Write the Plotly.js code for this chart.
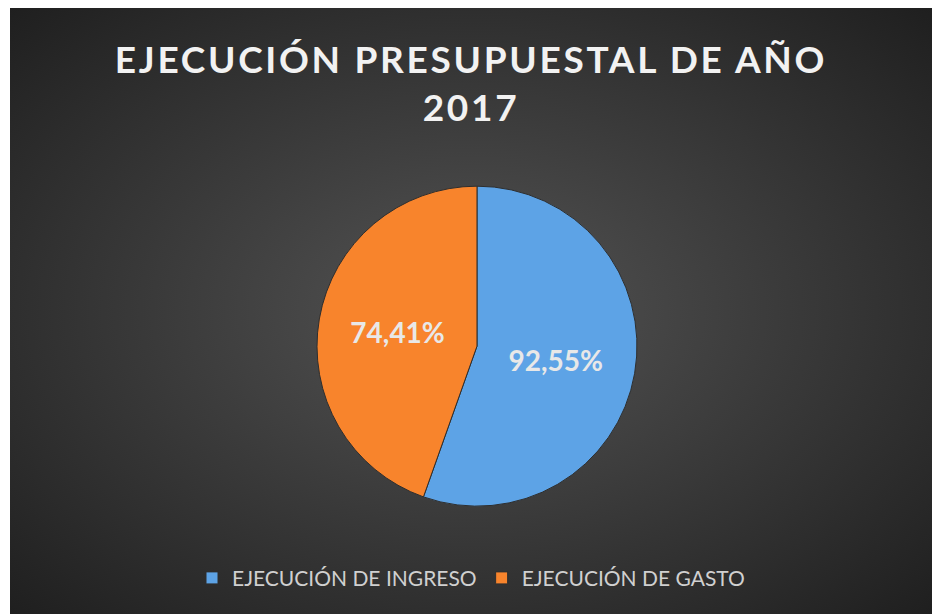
<!DOCTYPE html>
<html>
<head>
<meta charset="utf-8">
<script src="https://cdn.plot.ly/plotly-3.0.1.min.js"></script>
<style>
  html, body { margin: 0; padding: 0; background: #ffffff; }
  #chart {
    position: absolute; left: 10px; top: 8px; width: 922px; height: 606px;
    background: radial-gradient(ellipse at 50% 50%, #545454 0%, #3c3c3c 45%, #1f1f1f 100%);
  }
  #chart .gtitle { letter-spacing: 2.7px; }
</style>
</head>
<body>
<div id="chart"></div>
<script>
const categories = ["EJECUCIÓN DE INGRESO", "EJECUCIÓN DE GASTO"];
const values = [92.55, 74.41];
const valueLabels = ["92,55%", "74,41%"];
const colors = ["#5da3e6", "#f8842c"];

const data = [{
  type: "pie",
  labels: categories,
  values: values,
  text: valueLabels,
  texttemplate: "%{text}",
  textinfo: "text",
  textposition: "inside",
  insidetextorientation: "horizontal",
  insidetextfont: { family: "Lato, 'Open Sans', sans-serif", size: 28, color: "#e8e8e8", weight: 700 },
  hoverinfo: "label+text",
  sort: false,
  direction: "clockwise",
  rotation: 0,
  marker: { colors: colors, line: { color: "#2e2e2e", width: 1 } },
  domain: { x: [0.325, 0.688], y: [0.178, 0.706] }
}];

const layout = {
  width: 922, height: 606,
  paper_bgcolor: "rgba(0,0,0,0)",
  plot_bgcolor: "rgba(0,0,0,0)",
  margin: { l: 0, r: 0, t: 0, b: 0 },
  title: {
    text: "EJECUCIÓN PRESUPUESTAL DE AÑO<br>2017",
    font: { family: "Lato, 'Open Sans', sans-serif", size: 37, color: "#f2f2f2", weight: 700 },
    x: 0.5, xanchor: "center",
    y: 0.893, yanchor: "top", yref: "paper"
  },
  showlegend: true,
  legend: {
    orientation: "h",
    x: 0.5, xanchor: "center",
    y: 0.059, yanchor: "middle",
    font: { family: "Lato, 'Open Sans', sans-serif", size: 21, color: "#d0d0d0" },
    itemwidth: 30,
    bgcolor: "rgba(0,0,0,0)"
  }
};

Plotly.newPlot("chart", data, layout, { displayModeBar: false, staticPlot: true });
</script>
</body>
</html>
